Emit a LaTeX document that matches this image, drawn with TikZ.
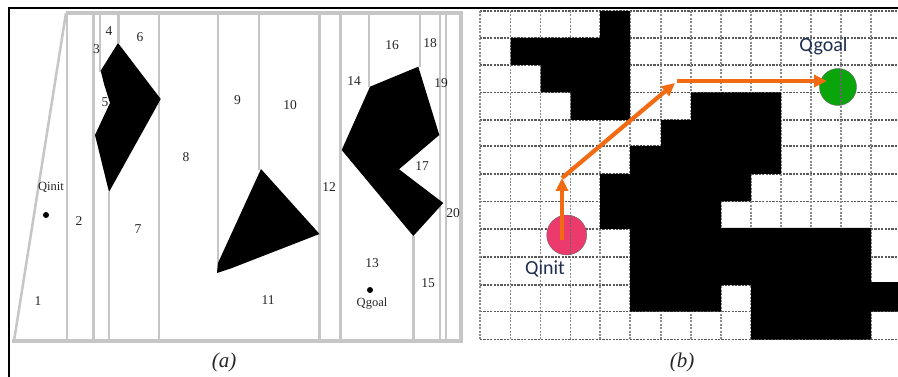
\documentclass[tikz,border=0pt]{standalone}
\usepackage{fontspec}
\setmainfont{Liberation Serif}
\newfontfamily\gridfont{Carlito}
\usetikzlibrary{arrows.meta}
\definecolor{wallgray}{HTML}{C6C6C6}
\definecolor{pathorange}{HTML}{F26A12}
\definecolor{initpink}{HTML}{EC3A6C}
\definecolor{goalgreen}{HTML}{0AA50A}
\definecolor{qblue}{HTML}{1F2F4F}
\tikzset{
  wall/.style={draw=wallgray,line width=2.5pt},
  outerwall/.style={draw=wallgray,line width=3.2pt},
  obstacle/.style={fill=black,draw=none},
  cellnum/.style={font=\fontsize{13.5}{13.5}\selectfont,inner sep=0pt,text=black!85},
  ptlabel/.style={font=\fontsize{12.5}{12.5}\selectfont,inner sep=0pt,text=black!85},
  caption/.style={font=\fontsize{21}{21}\selectfont\itshape,inner sep=0pt,text=black!85},
  gridh/.style={draw=black!65,line width=1.1pt,dash pattern=on 2.2pt off 1.2pt},
  gridv/.style={draw=black!45,line width=1.1pt,dash pattern=on 2pt off 1.4pt},
  gridlabel/.style={font=\gridfont\fontsize{20}{20}\selectfont,inner sep=0pt,text=qblue},
  pathline/.style={draw=pathorange,line width=4.2pt,-{Triangle[length=13pt,width=12pt]}},
  spot/.style={circle,fill=black,inner sep=0pt,minimum size=6pt},
}
\begin{document}
\begin{tikzpicture}[x=1pt,y=-1pt]
\useasboundingbox (0,0) rectangle (898,377);
\fill[white] (0,0) rectangle (898,377);
% frame
\draw[black,line width=1.1pt] (9,377) -- (9,8) -- (898,8);
% ---- panel (a): walls
\foreach \x/\a/\b in {67/13/341,93.5/13/341,100/13/72,109/192/341,118.5/13/43,159/13/341,218/13/272,259/13/170,319.5/13/341,340.5/13/341,369/13/87,413.5/236/341,420/13/67,440/13/341,446/13/341}
  \draw[wall] (\x,\a) -- (\x,\b);
\draw[outerwall] (66,13) -- (461,13) -- (461,341) -- (12,341);
\draw[wall] (66,13) -- (14,341);
% obstacles
\fill[obstacle] (118,43) -- (100.7,70.7) -- (104,84) -- (110,103) -- (95,135) -- (109,192) -- (153,113) -- (160.7,99) -- cycle;
\fill[obstacle] (261,169) -- (319.5,234) -- (232,268) -- (217,273) -- (218,263) -- cycle;
\fill[obstacle] (370,86.7) -- (418.3,66.7) -- (439.3,135) -- (399,169.3) -- (443.3,203) -- (413.3,236) -- (341.7,150) -- cycle;
% labels
\node[cellnum] (n1) at (38,301) {1};
\node[cellnum] (n2) at (79,221) {2};
\node[cellnum] (n3) at (96.5,49) {3};
\node[cellnum] (n4) at (109,31) {4};
\node[cellnum] (n5) at (105,102) {5};
\node[cellnum] (n6) at (140,37) {6};
\node[cellnum] (n7) at (138,229) {7};
\node[cellnum] (n8) at (186,157) {8};
\node[cellnum] (n9) at (237.5,100) {9};
\node[cellnum] (n10) at (290,105) {10};
\node[cellnum] (n11) at (268,300) {11};
\node[cellnum] (n12) at (329,187) {12};
\node[cellnum] (n13) at (372,263) {13};
\node[cellnum] (n14) at (354,81) {14};
\node[cellnum] (n15) at (428,283) {15};
\node[cellnum] (n16) at (392,45) {16};
\node[cellnum] (n17) at (422,166) {17};
\node[cellnum] (n18) at (430,43) {18};
\node[cellnum] (n19) at (441,83) {19};
\node[cellnum] (n20) at (453,213) {20};
\node[ptlabel] (qi) at (51,187) {Qinit};
\node[ptlabel] (qg) at (372,304) {Qgoal};
\node[spot] (qidot) at (46,215) {};
\node[spot] (qgdot) at (370,290) {};
\node[caption] (capa) at (224,362) {(a)};
% ---- panel (b): grid
\foreach \y in {11,38,65,92.5,120,146,174,201.5,229,257,285,311.5,339.5}
  \draw[gridh] (480,\y) -- (898,\y);
\foreach \x in {480,510.5,540.5,570.5,600,630,661,691,721,751,781,811,841,871}
  \draw[gridv] (\x,11) -- (\x,339.5);
% obstacle cells
\fill[obstacle] (600,11) -- (630,11) -- (630,120) -- (570.5,120) -- (570.5,92.5) -- (540.5,92.5) -- (540.5,65) -- (510.5,65) -- (510.5,38) -- (600,38) -- cycle;
\fill[obstacle] (691,92.5) -- (781,92.5) -- (781,174) -- (751,174) -- (751,201.5) -- (721,201.5) -- (721,228) -- (871,228) -- (871,282) -- (898,282) -- (898,311.5) -- (871,311.5) -- (871,339.5) -- (751,339.5) -- (751,285) -- (721,285) -- (721,311.5) -- (630,311.5) -- (630,229) -- (600,229) -- (600,174) -- (630,174) -- (630,146) -- (661,146) -- (661,120) -- (691,120) -- cycle;
% start and goal
\node[circle,fill=initpink,draw=black!60,line width=0.4pt,inner sep=0pt,minimum size=40pt] (init) at (566.7,235) {};
\node[circle,fill=goalgreen,draw=black!60,line width=0.4pt,inner sep=0pt,minimum size=37pt] (goal) at (838,87) {};
\draw[gridh,draw=black!60] (570.5,215) -- (570.5,255);
\draw[gridh,draw=black!60] (841,69) -- (841,105);
\node[gridlabel] (ql) at (545,269) {Qinit};
\node[gridlabel] (qr) at (823.5,46) {Qgoal};
% path
\coordinate (p0) at (562,240);
\coordinate (p1) at (562,178);
\coordinate (p2) at (675,83);
\coordinate (p3) at (677,81);
\coordinate (p4) at (827,81);
\draw[pathline] (p0) -- (p1);
\draw[pathline] (p1) -- (p2);
\draw[pathline] (p3) -- (p4);
\node[caption] (capb) at (682,362) {(b)};
\end{tikzpicture}
\end{document}
